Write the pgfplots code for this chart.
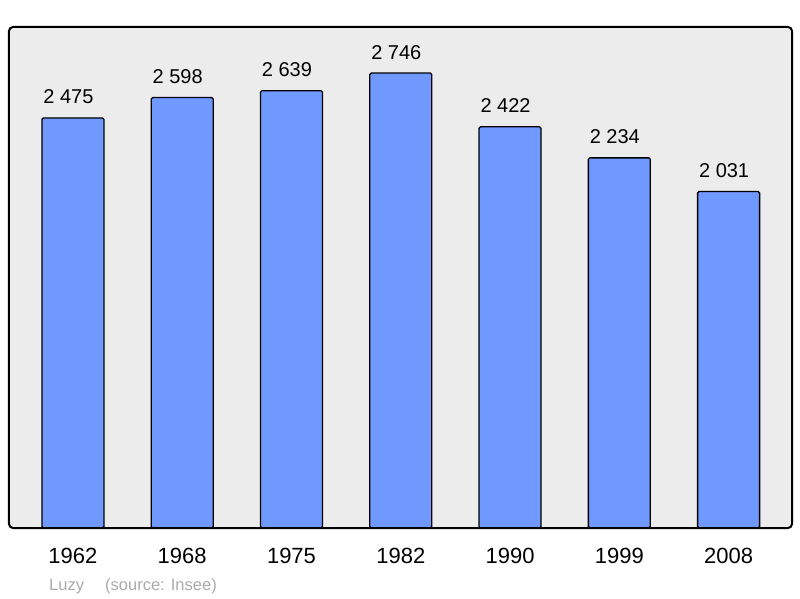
\documentclass[border=0pt]{standalone}
\usepackage{pgfplots}
\pgfplotsset{compat=1.18}
\usepackage{fontspec}
\setmainfont{Liberation Sans}
\definecolor{barblue}{RGB}{112,153,255}
\definecolor{bggray}{RGB}{236,236,236}
\definecolor{footgray}{RGB}{170,170,170}
\begin{document}
\begin{tikzpicture}[x=1pt,y=1pt]
\useasboundingbox (-9,-70) rectangle (791,528);
\fill[bggray, rounded corners=4pt] (0,0) rectangle (783,501);
\begin{axis}[
  at={(0,0)}, anchor=south west,
  scale only axis, width=783pt, height=501pt,
  xmin=-0.585, xmax=6.58, ymin=0, ymax=3024,
  axis line style={draw=none},
  ytick=\empty,
  xtick={0,...,6},
  xticklabels={1962,1968,1975,1982,1990,1999,2008},
  major tick length=0pt,
  xticklabel style={font=\fontsize{22}{26}\selectfont, anchor=center, yshift=-28pt},
  ybar, bar width=0.567,
  clip=false,
  nodes near coords,
  point meta=explicit symbolic,
  every node near coord/.style={font=\fontsize{20}{24}\selectfont, anchor=base, xshift=-4.5pt, yshift=14pt, inner sep=0pt, text=black},
]
\addplot[fill=barblue, draw=black, line width=1.3pt, rounded corners=1.5pt] table[meta=lbl] {
x y lbl
0 2475 {2\ 475}
1 2598 {2\ 598}
2 2639 {2\ 639}
3 2746 {2\ 746}
4 2422 {2\ 422}
5 2234 {2\ 234}
6 2031 {2\ 031}
};
\end{axis}
\draw[black, line width=2pt, rounded corners=4pt] (0,0) rectangle (783,501);
\node[anchor=base west, inner sep=0pt, text=footgray, font=\fontsize{16.5}{20}\selectfont] at (40,-62) {Luzy};
\node[anchor=base west, inner sep=0pt, text=footgray, font=\fontsize{16.5}{20}\selectfont] at (96,-62) {(source: Insee)};
\end{tikzpicture}
\end{document}
